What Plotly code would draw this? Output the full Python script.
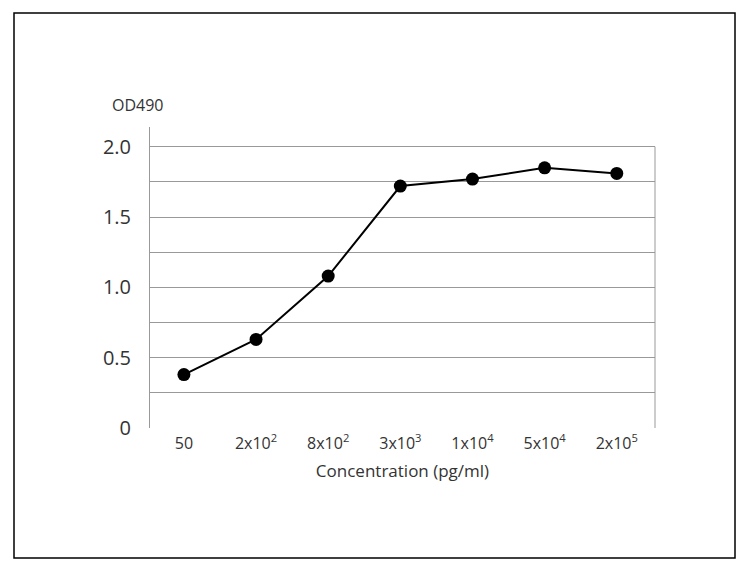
import plotly.graph_objects as go

categories = ["50", "2x10<sup>2</sup>", "8x10<sup>2</sup>", "3x10<sup>3</sup>", "1x10<sup>4</sup>", "5x10<sup>4</sup>", "2x10<sup>5</sup>"]
od490 = [0.38, 0.63, 1.08, 1.72, 1.77, 1.85, 1.81]
ytickvals = [0, 0.25, 0.5, 0.75, 1.0, 1.25, 1.5, 1.75, 2.0]
yticktext = ["0", "", "0.5", "", "1.0", "", "1.5", "", "2.0"]

fig = go.Figure(go.Scatter(
    x=list(range(len(categories))), y=od490, mode="lines+markers",
    line=dict(color="black", width=2), marker=dict(color="black", size=13)))

OFF = 8  # page body margin
W, H = 749 - OFF, 575 - OFF
l, t = 150 - OFF, 127 - OFF
r = W - (655 - OFF)
b = H - (428 - OFF)
pw, ph = W - l - r, H - t - b

def px(x): return (x - OFF - l) / pw
def py(y): return (H - b - (y - OFF)) / ph

fig.update_layout(
    width=W, height=H, margin=dict(l=l, r=r, t=t, b=b),
    paper_bgcolor="white", plot_bgcolor="white", showlegend=False,
    font=dict(family="Open Sans", color="#333"),
    xaxis=dict(tickvals=list(range(len(categories))), ticktext=categories,
               range=[-0.47, 6.53], showgrid=False, zeroline=False,
               tickfont=dict(size=16), ticks="", ticklabelstandoff=4,
               title=dict(text="Concentration (pg/ml)", font=dict(size=17), standoff=12)),
    yaxis=dict(range=[0, 2.14], tickvals=ytickvals, ticktext=yticktext,
               showgrid=True, gridcolor="#999", gridwidth=1, zeroline=False,
               showline=True, linecolor="#999", linewidth=1,
               tickfont=dict(size=20), ticks="", ticklabelstandoff=14),
    shapes=[
        dict(type="rect", xref="paper", yref="paper", x0=px(14), x1=px(735), y0=py(558), y1=py(13),
             line=dict(color="black", width=1.5)),
        dict(type="line", xref="paper", yref="y", x0=1, x1=1, y0=0, y1=2.0,
             line=dict(color="#999", width=1)),
    ],
    annotations=[dict(text="OD490", xref="paper", yref="paper", x=px(110), y=py(105),
                      xanchor="left", yanchor="middle", showarrow=False, font=dict(size=16))],
)
fig.write_html("out.html")
